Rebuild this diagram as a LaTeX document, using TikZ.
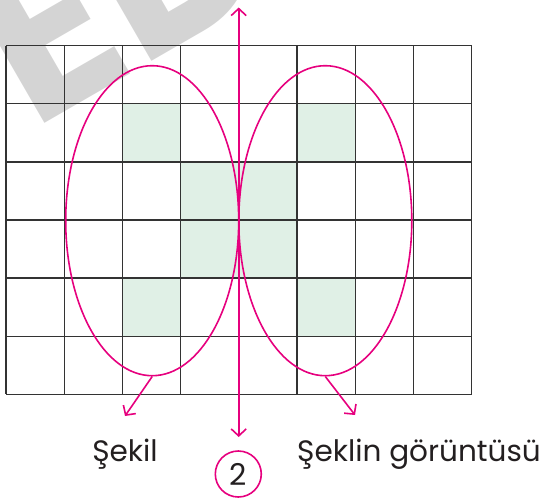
\documentclass[tikz,border=0pt]{standalone}
\usepackage{fontspec}
\setmainfont{Poppins}
\usetikzlibrary{shapes.geometric,arrows.meta}
\definecolor{pinkc}{HTML}{E6007E}
\definecolor{cellg}{HTML}{E0F0E6}
\definecolor{gridc}{HTML}{333333}
\definecolor{textc}{HTML}{231F20}
\definecolor{wmark}{HTML}{D4D4D4}
\tikzset{
  gridline/.style={draw=gridc,line width=1.3pt},
  shade/.style={fill=cellg},
  oval/.style={ellipse,draw=pinkc,line width=1.6pt,minimum width=173pt,minimum height=310pt,inner sep=0pt},
  parrow/.style={draw=pinkc,line width=1.6pt,-{Straight Barb[length=7pt,width=15pt,line width=1.6pt]}},
  lbl/.style={font=\fontsize{29.5pt}{32pt}\selectfont,text=textc,inner sep=0pt,anchor=base},
  num/.style={circle,draw=pinkc,line width=1.6pt,minimum size=46pt,inner sep=0pt,font=\fontsize{30pt}{30pt}\selectfont,text=textc}
}
\begin{document}
\begin{tikzpicture}[x=1pt,y=-1pt]
\useasboundingbox (0,0) rectangle (543,501);
% watermark
\node[text=wmark,font=\fontsize{230pt}{230pt}\selectfont\bfseries,rotate=30,inner sep=0pt] (wm) at (118,-12) {ED};
% shaded cells
\foreach \c/\r in {2/1,5/1,3/2,4/2,3/3,4/3,2/4,5/4}{
  \fill[shade] ({6+\c*58.2},{45.7+\r*58.1}) rectangle ({6+(\c+1)*58.2},{45.7+(\r+1)*58.1});
}
% grid
\foreach \i in {0,...,8}{\draw[gridline] ({6+\i*58.2},45.7) -- ({6+\i*58.2},394.3);}
\foreach \j in {0,...,6}{\draw[gridline] (6,{45.7+\j*58.1}) -- (471.6,{45.7+\j*58.1});}
% ellipses
\node[oval] (L) at (152.2,220.7) {};
\node[oval] (R) at (325.3,220.7) {};
% axis
\coordinate (atop) at (238.7,7.5);
\coordinate (abot) at (238.7,437);
\coordinate (amid) at (238.7,220.7);
\draw[parrow] (amid) -- (atop);
\draw[parrow] (amid) -- (abot);
% labels
\coordinate (lt) at (125,416);
\coordinate (rt) at (355,415);
\draw[parrow] (L.south) -- (lt);
\draw[parrow] (R.south) -- (rt);
\node[lbl] (sek) at (125,461.5) {Şekil};
\node[lbl] (gor) at (419,461.5) {Şeklin görüntüsü};
\node[num] (two) at (238.3,474) {2};
\end{tikzpicture}
\end{document}
